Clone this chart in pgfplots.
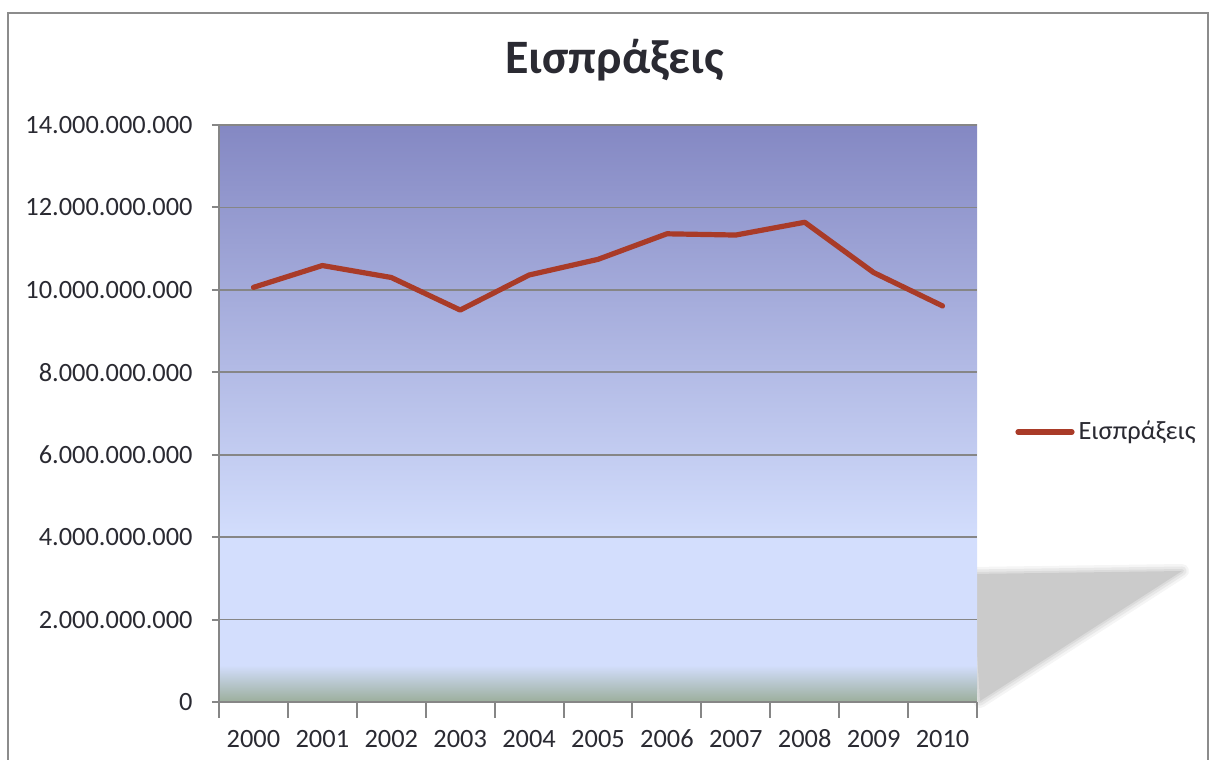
\documentclass[border=0pt]{standalone}
\usepackage{fontspec}
\setmainfont{Carlito}
\usepackage{pgfplots}
\pgfplotsset{compat=1.18}

\definecolor{inkgray}{RGB}{42,42,50}
\definecolor{axisgray}{RGB}{134,134,134}
\definecolor{framegray}{RGB}{140,140,140}
\definecolor{lineRed}{RGB}{169,59,40}
\definecolor{shadowgray}{RGB}{203,203,203}
\definecolor{bgTop}{RGB}{132,136,195}
\definecolor{bgLight}{RGB}{211,222,253}
\definecolor{bgGreen}{RGB}{155,174,155}

% plot area fill, bottom -> top (25bp..75bp is the box)
\pgfdeclareverticalshading{plotbg}{100bp}{color(0bp)=(bgGreen); color(25bp)=(bgGreen); color(28.2bp)=(bgLight); color(39bp)=(bgLight); color(75bp)=(bgTop); color(100bp)=(bgTop)}

\begin{document}
\begin{tikzpicture}
\useasboundingbox (0,0) rectangle (605.5pt,380pt);
% chart frame
\draw[framegray, line width=1pt] (4pt,-5pt) -- (4pt,373.5pt) -- (604pt,373.5pt) -- (604pt,-5pt);
% plot area shadow, soft edge from a few translucent strokes
\foreach \w/\o in {7pt/0.2,4.5pt/0.3,2pt/0.45}{
  \draw[shadowgray, line width=\w, opacity=\o, line join=round]
    (486pt,93pt) -- (591pt,94.5pt) -- (490pt,29.5pt) -- cycle;
}
\fill[shadowgray] (486pt,93pt) -- (591pt,94.5pt) -- (490pt,29.5pt) -- cycle;

\begin{axis}[
  at={(109.5pt,29pt)}, anchor=south west,
  scale only axis, width=379pt, height=288.5pt,
  xmin=-0.5, xmax=10.5, ymin=0, ymax=14e9,
  scaled y ticks=false,
  xtick={0,...,10},
  xticklabels={2000,2001,2002,2003,2004,2005,2006,2007,2008,2009,2010},
  minor xtick={-0.5,0.5,...,10.5},
  major x tick style={draw=none},
  minor tick length=8pt, major tick length=3.5pt,
  ytick={0,2e9,4e9,6e9,8e9,10e9,12e9,14e9},
  yticklabels={0,2.000.000.000,4.000.000.000,6.000.000.000,8.000.000.000,10.000.000.000,12.000.000.000,14.000.000.000},
  axis x line*=bottom, axis y line*=left,
  tick align=outside,
  axis line style={axisgray, line width=1pt},
  tick style={axisgray, line width=1pt},
  ymajorgrids, grid style={axisgray, line width=0.9pt},
  axis background/.style={shading=plotbg},
  tick label style={font=\fontsize{13.2}{15}\selectfont, text=inkgray},
  yticklabel style={anchor=east, inner sep=0pt, xshift=-9.5pt},
  xticklabel style={anchor=north, inner sep=0pt, yshift=-13pt, text height=1.3ex, text depth=0pt},
  title={Εισπράξεις},
  title style={font=\bfseries\fontsize{24}{28}\selectfont, text=inkgray, at={(0.5,1)}, anchor=base, xshift=8.25pt, yshift=19.5pt},
  legend style={at={(1,0.468)}, anchor=west, xshift=19pt, draw=none, fill=none,
    font=\fontsize{13.2}{15}\selectfont, text=inkgray, inner sep=0pt},
  legend image code/.code={\draw[#1, line cap=round] (0pt,0pt) -- (27pt,0pt);},
  clip=false,
]
\addplot[lineRed, line width=2.6pt, line join=round, line cap=round] coordinates {
  (0,10.06e9) (1,10.59e9) (2,10.30e9) (3,9.51e9) (4,10.36e9) (5,10.74e9)
  (6,11.36e9) (7,11.33e9) (8,11.64e9) (9,10.42e9) (10,9.61e9)
};
\addlegendentry{Εισπράξεις}
\end{axis}
\end{tikzpicture}
\end{document}
